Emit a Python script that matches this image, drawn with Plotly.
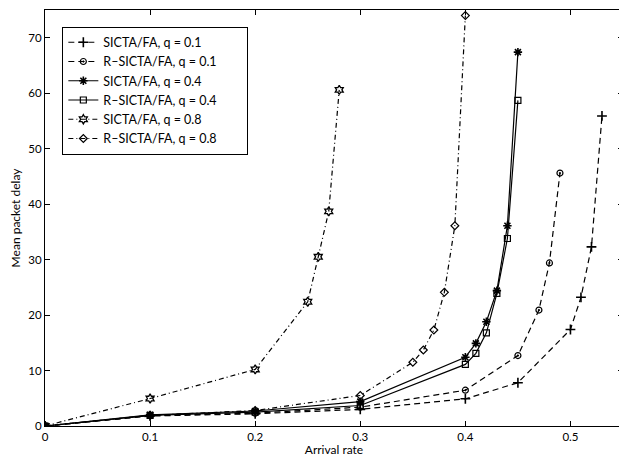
import plotly.graph_objects as go

# ---- data ----
x_sicta_q01 = [0, 0.1, 0.2, 0.3, 0.4, 0.45, 0.5, 0.51, 0.52, 0.53]
y_sicta_q01 = [0, 1.8, 2.2, 3.0, 4.9, 7.8, 17.4, 23.2, 32.3, 55.9]

x_rsicta_q01 = [0, 0.1, 0.2, 0.3, 0.4, 0.45, 0.47, 0.48, 0.49]
y_rsicta_q01 = [0, 1.9, 2.3, 3.4, 6.45, 12.7, 20.9, 29.4, 45.6]

x_q04 = [0, 0.1, 0.2, 0.3, 0.4, 0.41, 0.42, 0.43, 0.44, 0.45]
y_sicta_q04 = [0, 2.0, 2.7, 4.4, 12.4, 14.9, 18.8, 24.4, 36.1, 67.4]
y_rsicta_q04 = [0, 1.9, 2.5, 3.7, 11.1, 13.1, 16.8, 23.9, 33.8, 58.7]

x_sicta_q08 = [0, 0.1, 0.2, 0.25, 0.26, 0.27, 0.28]
y_sicta_q08 = [0, 4.95, 10.2, 22.4, 30.5, 38.7, 60.6]

x_rsicta_q08 = [0, 0.1, 0.2, 0.3, 0.35, 0.36, 0.37, 0.38, 0.39, 0.4]
y_rsicta_q08 = [0, 1.9, 2.8, 5.5, 11.5, 13.7, 17.3, 24.1, 36.1, 74.0]

x_ticks = [0, 0.1, 0.2, 0.3, 0.4, 0.5]
x_tick_labels = ["0", "0.1", "0.2", "0.3", "0.4", "0.5"]
y_ticks = [0, 10, 20, 30, 40, 50, 60, 70]

series_names = [
    "SICTA/FA, q = 0.1",
    "R\u2013SICTA/FA, q = 0.1",
    "SICTA/FA, q = 0.4",
    "R\u2013SICTA/FA, q = 0.4",
    "SICTA/FA, q = 0.8",
    "R\u2013SICTA/FA, q = 0.8",
]

pad = "\u00a0" * 8  # right padding inside the legend box

series = [
    (series_names[0], x_sicta_q01, y_sicta_q01, "6px,4px", "cross-thin-open", 7, 1.6),
    (series_names[1], x_rsicta_q01, y_rsicta_q01, "6px,4px", "circle-open-dot", 6, 1.2),
    (series_names[2], x_q04, y_sicta_q04, "solid", "asterisk-open", 7, 1.6),
    (series_names[3], x_q04, y_rsicta_q04, "solid", "square-open", 6, 1.2),
    (series_names[4], x_sicta_q08, y_sicta_q08, "5px,3px,1px,3px", "hexagram-open", 7, 1.3),
    (series_names[5], x_rsicta_q08, y_rsicta_q08, "5px,3px,1px,3px", "diamond-open", 6, 1.2),
]

fig = go.Figure()
for name, xs, ys, dash, sym, size, mlw in series:
    fig.add_trace(go.Scatter(
        x=xs, y=ys, name=name + pad, mode="lines+markers",
        line=dict(color="black", width=1.2, dash=dash),
        marker=dict(symbol=sym, size=size, color="black",
                    line=dict(color="black", width=mlw)),
    ))

axis_common = dict(
    showgrid=False, zeroline=False, showline=True, linecolor="black", linewidth=1,
    mirror="allticks", ticks="inside", ticklen=5, tickcolor="black", tickwidth=1,
    tickfont=dict(size=11.5, color="black"),
)

# page body has an 8px default margin, so the figure is sized to fit the window
fig.update_layout(
    width=619, height=449,
    margin=dict(l=37, r=4, t=2, b=31),
    paper_bgcolor="white", plot_bgcolor="white",
    font=dict(family="Lato, Open Sans, sans-serif", color="black", size=12),
    xaxis=dict(range=[0, 0.55], tickvals=x_ticks, ticktext=x_tick_labels,
               title=dict(text="Arrival rate", font=dict(size=12), standoff=0), **axis_common),
    yaxis=dict(range=[0, 75], tickvals=y_ticks,
               title=dict(text="Mean packet delay", font=dict(size=12), standoff=6), **axis_common),
    legend=dict(x=0.03, y=0.96, xanchor="left", yanchor="top",
                bgcolor="white", bordercolor="black", borderwidth=1,
                font=dict(family="Lato, sans-serif", size=12.5, color="black"),
                tracegroupgap=0, itemwidth=30),
    showlegend=True,
)

fig.write_html("out.html")
